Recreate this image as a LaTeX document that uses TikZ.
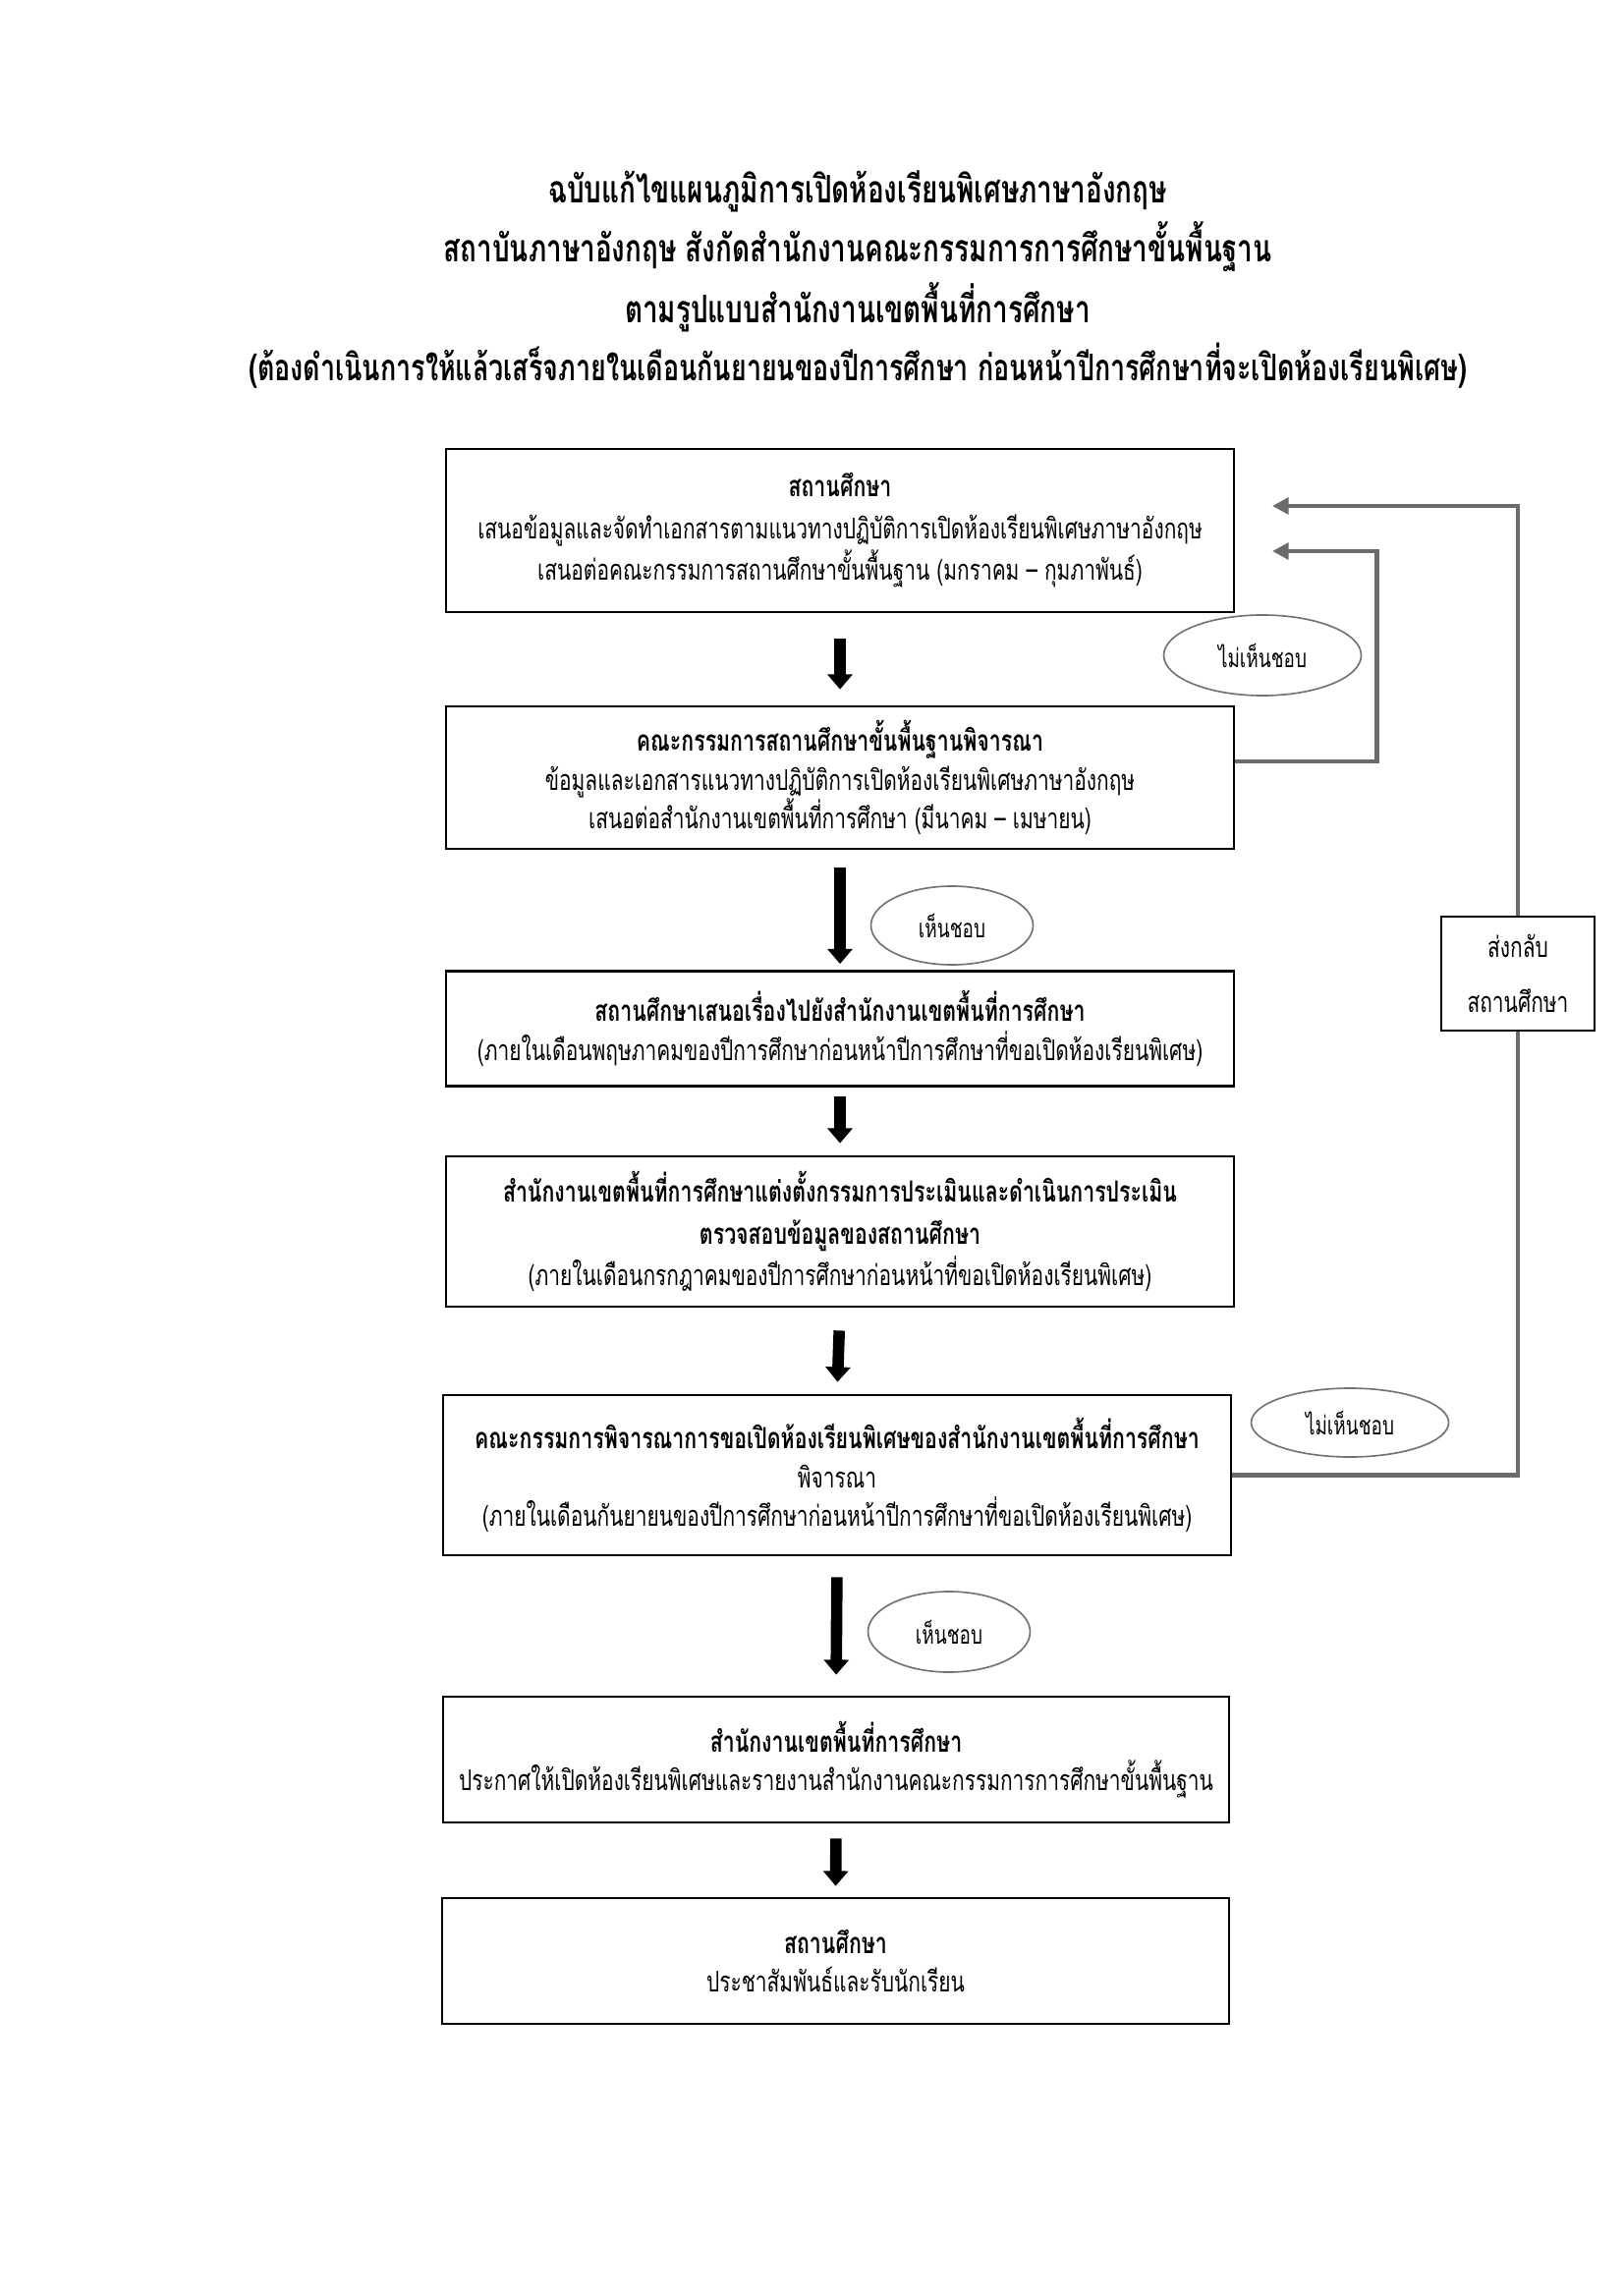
\documentclass[tikz,border=0pt]{standalone}
\usepackage{fontspec}
\setmainfont[Script=Thai, FakeStretch=0.72]{Loma}
\usetikzlibrary{arrows.meta,shapes.geometric}
\def\P{0.012712cm}
\tikzset{
  box/.style={draw, line width=1pt, fill=white, minimum width=802*\P, align=center, inner sep=0pt},
  ttl/.style={font=\fontsize{14}{16}\selectfont\bfseries, inner sep=0pt},
  body/.style={font=\fontsize{10.5}{14.4}\selectfont},
  bigarrow/.style={line width=4.2pt, -{Triangle[width=9pt,length=5.5pt]}},
  fb/.style={draw=black!58, line width=1.6pt, line join=miter, -{Triangle[width=6pt,length=6pt]}},
  ell/.style={ellipse, draw=black!55, line width=0.6pt, fill=white, inner sep=0pt, font=\fontsize{9.5}{12}\selectfont},
}
\newcommand{\hdtext}[1]{{\fontsize{10.7}{14.4}\selectfont\bfseries #1}}
\begin{document}
\begin{tikzpicture}[x=0.012712cm, y=-0.012712cm]
\useasboundingbox (0,0) rectangle (1652,2336);
\fill[white] (0,0) rectangle (1652,2336);

% title
\node[ttl] (t1) at (873,195) {ฉบับแก้ไขแผนภูมิการเปิดห้องเรียนพิเศษภาษาอังกฤษ};
\node[ttl] (t2) at (873,251) {สถาบันภาษาอังกฤษ สังกัดสำนักงานคณะกรรมการการศึกษาขั้นพื้นฐาน};
\node[ttl] (t3) at (873,313) {ตามรูปแบบสำนักงานเขตพื้นที่การศึกษา};
\node[ttl, font=\fontsize{13.5}{16}\selectfont\bfseries] (t4) at (873,372) {(ต้องดำเนินการให้แล้วเสร็จภายในเดือนกันยายนของปีการศึกษา ก่อนหน้าปีการศึกษาที่จะเปิดห้องเรียนพิเศษ)};

% feedback end points and send-back box
\coordinate (fbin) at (1295,561);
\coordinate (fbout) at (1295,515);
\node[box, body, minimum width=156*\P, minimum height=116*\P, line width=0.9pt] (sb) at (1545,991) {ส่งกลับ\\[6pt]สถานศึกษา};

% boxes
\node[box, body, minimum height=166*\P] (b1) at (855,540)
  {\hdtext{สถานศึกษา}\\[1pt]
   เสนอข้อมูลและจัดทำเอกสารตามแนวทางปฏิบัติการเปิดห้องเรียนพิเศษภาษาอังกฤษ\\[1pt]
   เสนอต่อคณะกรรมการสถานศึกษาขั้นพื้นฐาน (มกราคม – กุมภาพันธ์)};
\node[box, body, minimum height=145*\P] (b2) at (855,791.5)
  {\hdtext{คณะกรรมการสถานศึกษาขั้นพื้นฐานพิจารณา}\\
   ข้อมูลและเอกสารแนวทางปฏิบัติการเปิดห้องเรียนพิเศษภาษาอังกฤษ\\
   เสนอต่อสำนักงานเขตพื้นที่การศึกษา (มีนาคม – เมษายน)};
\node[box, body, minimum height=117*\P] (b3) at (855,1047)
  {\hdtext{สถานศึกษาเสนอเรื่องไปยังสำนักงานเขตพื้นที่การศึกษา}\\
   (ภายในเดือนพฤษภาคมของปีการศึกษาก่อนหน้าปีการศึกษาที่ขอเปิดห้องเรียนพิเศษ)};
\node[box, body, minimum height=153*\P] (b4) at (855,1253.5)
  {\hdtext{สำนักงานเขตพื้นที่การศึกษาแต่งตั้งกรรมการประเมินและดำเนินการประเมิน}\\[1pt]
   \hdtext{ตรวจสอบข้อมูลของสถานศึกษา}\\[1pt]
   (ภายในเดือนกรกฎาคมของปีการศึกษาก่อนหน้าที่ขอเปิดห้องเรียนพิเศษ)};
\node[box, body, minimum height=163*\P] (b5) at (852,1501.5)
  {\hdtext{คณะกรรมการพิจารณาการขอเปิดห้องเรียนพิเศษของสำนักงานเขตพื้นที่การศึกษา}\\
   พิจารณา\\
   (ภายในเดือนกันยายนของปีการศึกษาก่อนหน้าปีการศึกษาที่ขอเปิดห้องเรียนพิเศษ)};
\node[box, body, minimum height=128*\P, minimum width=800*\P] (b6) at (851,1791)
  {\hdtext{สำนักงานเขตพื้นที่การศึกษา}\\
   ประกาศให้เปิดห้องเรียนพิเศษและรายงานสำนักงานคณะกรรมการการศึกษาขั้นพื้นฐาน};
\node[box, body, minimum height=128*\P, minimum width=801*\P] (b7) at (850.5,1996)
  {\hdtext{สถานศึกษา}\\
   ประชาสัมพันธ์และรับนักเรียน};

% feedback connectors
\draw[fb] ([yshift=16.5*\P]b2.east) -- ++(144,0) |- (fbin);
\draw[fb, -] (b5.east) -| (sb.south);
\draw[fb] (sb.north) |- (fbout);

% ellipses
\node[ell, minimum width=201*\P, minimum height=82*\P] (e1) at (1285,667) {ไม่เห็นชอบ};
\node[ell, minimum width=165*\P, minimum height=80*\P] (e2) at (969,942) {เห็นชอบ};
\node[ell, minimum width=201*\P, minimum height=70*\P] (e3) at (1374,1448) {ไม่เห็นชอบ};
\node[ell, minimum width=165*\P, minimum height=82*\P] (e4) at (966,1661) {เห็นชอบ};

% main arrows
\draw[bigarrow, shorten <=26*\P, shorten >=16*\P] (b1.south) -- (b2.north);
\draw[bigarrow, shorten <=18*\P, shorten >=6*\P] (b2.south) -- (b3.north);
\draw[bigarrow, shorten <=9*\P, shorten >=12*\P] (b3.south) -- (b4.north);
\draw[bigarrow, shorten <=23*\P, shorten >=12*\P] (b4.south) -- (b5.north);
\draw[bigarrow, shorten <=21*\P, shorten >=21*\P] (b5.south) -- (b6.north);
\draw[bigarrow, shorten <=15*\P, shorten >=11*\P] (b6.south) -- (b7.north);
\end{tikzpicture}
\end{document}
